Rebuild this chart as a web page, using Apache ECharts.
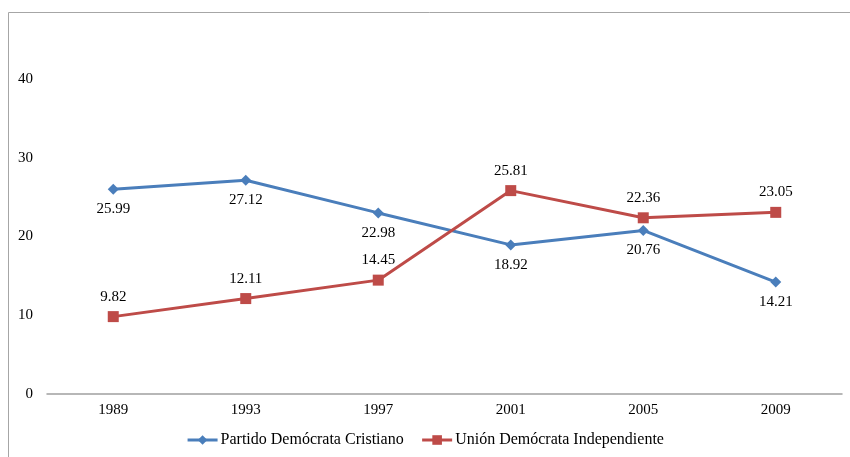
<!DOCTYPE html>
<html>
<head>
<meta charset="utf-8">
<script src="https://cdn.jsdelivr.net/npm/echarts@6/dist/echarts.min.js"></script>
<style>
  html, body { margin: 0; padding: 0; background: #fff; }
  #chart { width: 850px; height: 457px; }
</style>
</head>
<body>
<div id="chart"></div>
<script>
// years on the x axis
var years = ['1989', '1993', '1997', '2001', '2005', '2009'];
// vote share per party
var pdcValues = [25.99, 27.12, 22.98, 18.92, 20.76, 14.21];
var udiValues = [9.82, 12.11, 14.45, 25.81, 22.36, 23.05];
var seriesNames = ['Partido Demócrata Cristiano', 'Unión Demócrata Independiente'];

var font = 'Liberation Serif, Times New Roman, serif';

var chart = echarts.init(document.getElementById('chart'));

var option = {
    animation: false,
    textStyle: { fontFamily: font },
    // outer frame of the chart area (cropped on right / bottom)
    graphic: [{
        type: 'rect',
        shape: { x: 8.5, y: 12.5, width: 900, height: 600 },
        style: { fill: 'none', stroke: '#a6a6a6', lineWidth: 1 },
        silent: true
    }],
    grid: { left: 47, right: 8, top: 0, bottom: 63 },
    legend: {
        bottom: 4,
        left: 'center',
        itemGap: 17,
        itemWidth: 30,
        itemHeight: 12,
        lineStyle: { width: 3 },
        textStyle: { fontFamily: font, fontSize: 16, color: '#000', padding: [0, 0, 0, -2] },
        data: seriesNames
    },
    xAxis: {
        type: 'category',
        data: years,
        boundaryGap: true,
        axisLine: { lineStyle: { color: '#a0a0a0', width: 1.5 } },
        axisTick: { show: false },
        axisLabel: { color: '#000', fontSize: 15, fontFamily: font, margin: 9 }
    },
    yAxis: {
        type: 'value',
        min: 0,
        max: 50,
        interval: 10,
        splitLine: { show: false },
        axisLine: { show: false },
        axisTick: { show: false },
        axisLabel: { color: '#000', fontSize: 15, fontFamily: font, margin: 14, showMaxLabel: false }
    },
    series: [
        {
            name: seriesNames[0],
            type: 'line',
            data: pdcValues,
            symbol: 'diamond',
            symbolSize: 11,
            itemStyle: { color: '#4a7ebb' },
            lineStyle: { color: '#4a7ebb', width: 3 },
            label: {
                show: true,
                position: 'bottom',
                distance: 7,
                color: '#000',
                fontSize: 15,
                fontFamily: font,
                formatter: function (p) { return p.value.toFixed(2); }
            }
        },
        {
            name: seriesNames[1],
            type: 'line',
            data: udiValues,
            symbol: 'rect',
            symbolSize: 11,
            itemStyle: { color: '#be4b48' },
            lineStyle: { color: '#be4b48', width: 3 },
            label: {
                show: true,
                position: 'top',
                distance: 7,
                color: '#000',
                fontSize: 15,
                fontFamily: font,
                formatter: function (p) { return p.value.toFixed(2); }
            }
        }
    ]
};

chart.setOption(option);
</script>
</body>
</html>
